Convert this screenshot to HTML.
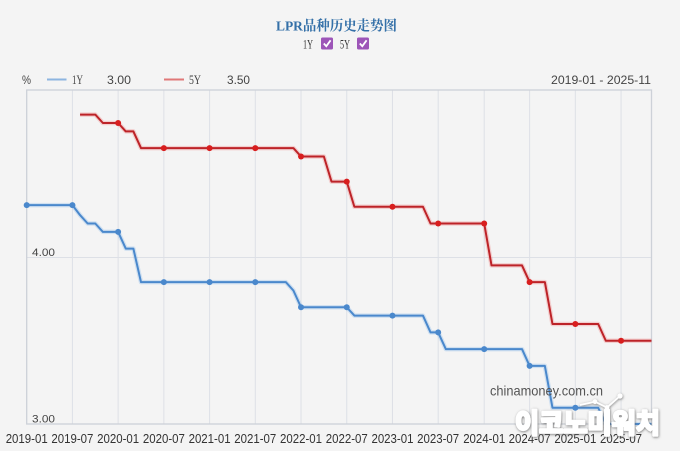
<!DOCTYPE html>
<html><head><meta charset="utf-8"><style>
html,body{margin:0;padding:0;background:#f4f4f4;}
svg{display:block;}
text{font-family:"Liberation Sans","Noto Sans CJK SC",sans-serif;}
</style></head><body>
<svg width="680" height="451" viewBox="0 0 680 451" xmlns="http://www.w3.org/2000/svg">
<defs>
<filter id="sh" x="-10%" y="-30%" width="120%" height="160%">
<feDropShadow dx="0.5" dy="0.8" stdDeviation="1.2" flood-color="#6a6a6a" flood-opacity="0.9"/>
</filter>
</defs>
<rect x="0" y="0" width="680" height="451" fill="#f4f4f4"/>
<!-- title -->
<text x="276" y="30.5" font-size="14" font-weight="bold" fill="#3470a8" textLength="121" lengthAdjust="spacingAndGlyphs" style="font-family:'Liberation Serif','Noto Serif CJK SC',serif">LPR品种历史走势图</text>
<!-- checkboxes -->
<text x="303" y="48.3" font-size="13" fill="#333" textLength="10" lengthAdjust="spacingAndGlyphs" style="font-family:'Liberation Serif',serif">1Y</text>
<rect x="321" y="37.5" width="12" height="12" rx="1.5" fill="#9d55b8"/>
<polyline points="323.8,43.5 326.3,46.2 330.6,40.3" fill="none" stroke="#fff" stroke-width="1.8"/>
<text x="340" y="48.3" font-size="13" fill="#333" textLength="10" lengthAdjust="spacingAndGlyphs" style="font-family:'Liberation Serif',serif">5Y</text>
<rect x="357" y="37.5" width="12" height="12" rx="1.5" fill="#9d55b8"/>
<polyline points="359.8,43.5 362.3,46.2 366.6,40.3" fill="none" stroke="#fff" stroke-width="1.8"/>
<!-- legend -->
<g font-size="12" fill="#444">
<text x="22" y="84" textLength="9" lengthAdjust="spacingAndGlyphs">%</text>
<line x1="47" y1="79.5" x2="66.5" y2="79.5" stroke="#8db5e0" stroke-width="2"/>
<text x="72" y="84" font-size="13" textLength="11" lengthAdjust="spacingAndGlyphs" style="font-family:'Liberation Serif',serif">1Y</text>
<text x="107" y="84" textLength="24" lengthAdjust="spacingAndGlyphs">3.00</text>
<line x1="164" y1="79.5" x2="184" y2="79.5" stroke="#e07878" stroke-width="2"/>
<text x="189" y="84" font-size="13" textLength="12" lengthAdjust="spacingAndGlyphs" style="font-family:'Liberation Serif',serif">5Y</text>
<text x="227" y="84" textLength="23" lengthAdjust="spacingAndGlyphs">3.50</text>
<text x="551" y="84" textLength="100" lengthAdjust="spacingAndGlyphs">2019-01 - 2025-11</text>
</g>
<!-- grid -->
<g stroke="#dde0e6" stroke-width="1">
<line x1="72.42" y1="90" x2="72.42" y2="424"/>
<line x1="118.14" y1="90" x2="118.14" y2="424"/>
<line x1="163.86" y1="90" x2="163.86" y2="424"/>
<line x1="209.58" y1="90" x2="209.58" y2="424"/>
<line x1="255.3" y1="90" x2="255.3" y2="424"/>
<line x1="301.02" y1="90" x2="301.02" y2="424"/>
<line x1="346.74" y1="90" x2="346.74" y2="424"/>
<line x1="392.46" y1="90" x2="392.46" y2="424"/>
<line x1="438.18" y1="90" x2="438.18" y2="424"/>
<line x1="484.2" y1="90" x2="484.2" y2="424"/>
<line x1="529.62" y1="90" x2="529.62" y2="424"/>
<line x1="575.34" y1="90" x2="575.34" y2="424"/>
<line x1="621.06" y1="90" x2="621.06" y2="424"/>
<line x1="26.7" y1="257.5" x2="651.5" y2="257.5"/>
</g>
<rect x="26.7" y="90" width="624.8" height="334" fill="none" stroke="#cdd1d8" stroke-width="1.3"/>
<!-- y labels -->
<text x="32" y="256" font-size="11" fill="#444" textLength="23" lengthAdjust="spacingAndGlyphs">4.00</text>
<text x="32" y="422.5" font-size="11" fill="#444" textLength="23" lengthAdjust="spacingAndGlyphs">3.00</text>
<!-- series: red -->
<polyline fill="none" stroke="#e88" stroke-opacity="0.35" stroke-width="4.5" stroke-linejoin="round" points="80.04,114.6 95.28,114.6 102.9,123.0 118.14,123.0 125.76,131.4 133.38,131.4 141.0,148.1 293.4,148.1 301.02,156.5 323.88,156.5 331.5,181.6 346.74,181.6 354.36,206.75 422.94,206.75 430.56,223.5 484.2,223.5 491.52,265.4 522.0,265.4 529.62,282.1 544.86,282.1 552.48,324.0 598.2,324.0 605.82,340.75 651.5,340.75"/>
<polyline fill="none" stroke="#bd2328" stroke-width="2" stroke-linejoin="round" points="80.04,114.6 95.28,114.6 102.9,123.0 118.14,123.0 125.76,131.4 133.38,131.4 141.0,148.1 293.4,148.1 301.02,156.5 323.88,156.5 331.5,181.6 346.74,181.6 354.36,206.75 422.94,206.75 430.56,223.5 484.2,223.5 491.52,265.4 522.0,265.4 529.62,282.1 544.86,282.1 552.48,324.0 598.2,324.0 605.82,340.75 651.5,340.75"/>
<g fill="#d81e1e">
<circle cx="118.14" cy="123.0" r="3"/><circle cx="163.86" cy="148.1" r="3"/><circle cx="209.58" cy="148.1" r="3"/><circle cx="255.3" cy="148.1" r="3"/><circle cx="301.02" cy="156.5" r="3"/><circle cx="346.74" cy="181.6" r="3"/><circle cx="392.46" cy="206.75" r="3"/><circle cx="438.18" cy="223.5" r="3"/><circle cx="484.2" cy="223.5" r="3"/><circle cx="529.62" cy="282.1" r="3"/><circle cx="575.34" cy="324.0" r="3"/><circle cx="621.06" cy="340.75" r="3"/>
</g>
<!-- series: blue -->
<polyline fill="none" stroke="#9cc3ec" stroke-opacity="0.4" stroke-width="4.5" stroke-linejoin="round" points="26.7,205.1 72.42,205.1 80.04,215.1 87.66,223.5 95.28,223.5 102.9,231.9 118.14,231.9 125.76,248.6 133.38,248.6 141.0,282.1 285.78,282.1 293.4,290.5 301.02,307.25 346.74,307.25 354.36,315.6 422.94,315.6 430.56,332.4 438.18,332.4 445.8,349.1 522.0,349.1 529.62,365.9 544.86,365.9 552.48,407.75 598.2,407.75 605.82,424 651.5,424"/>
<polyline fill="none" stroke="#4a88cc" stroke-width="2" stroke-linejoin="round" points="26.7,205.1 72.42,205.1 80.04,215.1 87.66,223.5 95.28,223.5 102.9,231.9 118.14,231.9 125.76,248.6 133.38,248.6 141.0,282.1 285.78,282.1 293.4,290.5 301.02,307.25 346.74,307.25 354.36,315.6 422.94,315.6 430.56,332.4 438.18,332.4 445.8,349.1 522.0,349.1 529.62,365.9 544.86,365.9 552.48,407.75 598.2,407.75 605.82,424 651.5,424"/>
<g fill="#4a88cc">
<circle cx="26.7" cy="205.1" r="3"/><circle cx="72.42" cy="205.1" r="3"/><circle cx="118.14" cy="231.9" r="3"/><circle cx="163.86" cy="282.1" r="3"/><circle cx="209.58" cy="282.1" r="3"/><circle cx="255.3" cy="282.1" r="3"/><circle cx="301.02" cy="307.25" r="3"/><circle cx="346.74" cy="307.25" r="3"/><circle cx="392.46" cy="315.6" r="3"/><circle cx="438.18" cy="332.4" r="3"/><circle cx="484.2" cy="349.1" r="3"/><circle cx="529.62" cy="365.9" r="3"/><circle cx="575.34" cy="407.75" r="3"/><circle cx="621.06" cy="424" r="3"/>
</g>
<!-- x labels -->
<g font-size="13" fill="#333" text-anchor="middle">
<text x="26.7" y="443" textLength="42" lengthAdjust="spacingAndGlyphs">2019-01</text>
<text x="72.42" y="443" textLength="42" lengthAdjust="spacingAndGlyphs">2019-07</text>
<text x="118.14" y="443" textLength="42" lengthAdjust="spacingAndGlyphs">2020-01</text>
<text x="163.86" y="443" textLength="42" lengthAdjust="spacingAndGlyphs">2020-07</text>
<text x="209.58" y="443" textLength="42" lengthAdjust="spacingAndGlyphs">2021-01</text>
<text x="255.3" y="443" textLength="42" lengthAdjust="spacingAndGlyphs">2021-07</text>
<text x="301.02" y="443" textLength="42" lengthAdjust="spacingAndGlyphs">2022-01</text>
<text x="346.74" y="443" textLength="42" lengthAdjust="spacingAndGlyphs">2022-07</text>
<text x="392.46" y="443" textLength="42" lengthAdjust="spacingAndGlyphs">2023-01</text>
<text x="438.18" y="443" textLength="42" lengthAdjust="spacingAndGlyphs">2023-07</text>
<text x="484.2" y="443" textLength="42" lengthAdjust="spacingAndGlyphs">2024-01</text>
<text x="529.62" y="443" textLength="42" lengthAdjust="spacingAndGlyphs">2024-07</text>
<text x="575.34" y="443" textLength="42" lengthAdjust="spacingAndGlyphs">2025-01</text>
<text x="621.06" y="443" textLength="42" lengthAdjust="spacingAndGlyphs">2025-07</text>
</g>
<!-- watermarks -->
<text x="490" y="395.5" font-size="14" fill="#555" textLength="113" lengthAdjust="spacingAndGlyphs">chinamoney.com.cn</text>
<g filter="url(#sh)">
<polyline points="580,405 595,401.7 607,407.5 620,396" fill="none" stroke="#fff" stroke-width="1.8"/>
<circle cx="595" cy="401.7" r="2.4" fill="#fff"/><circle cx="607" cy="407.5" r="2.4" fill="#fff"/><circle cx="620" cy="396" r="2.6" fill="#fff"/>
<text x="515" y="433" font-size="27" font-weight="bold" fill="#ffffff" stroke="#ffffff" stroke-width="2.6" stroke-linejoin="round" textLength="145" lengthAdjust="spacingAndGlyphs" style="font-family:'Noto Sans CJK KR','NanumGothic',sans-serif">이코노미워치</text>
</g>
</svg>
</body></html>
